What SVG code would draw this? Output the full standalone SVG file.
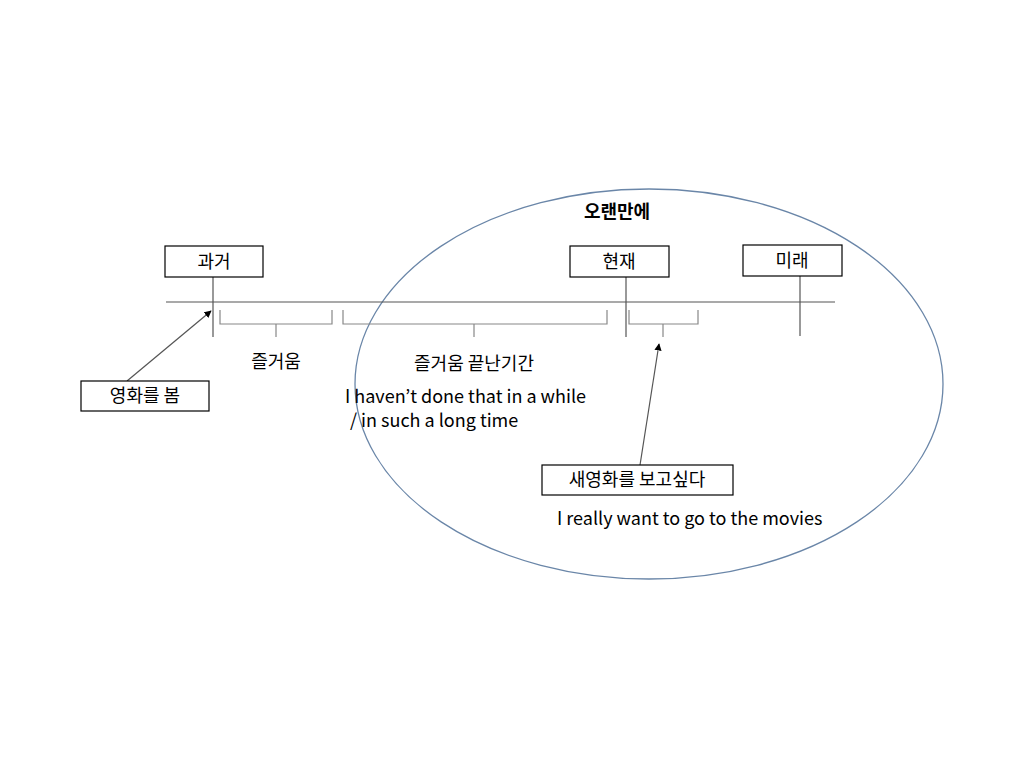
<svg xmlns="http://www.w3.org/2000/svg" width="1024" height="768" viewBox="0 0 1024 768">
<style>
.t{font-family:"Noto Sans CJK KR","Noto Sans",sans-serif;font-size:18px;fill:#000}
.b{fill:#fff;stroke:#000;stroke-width:1.2}
.l{stroke:#555;stroke-width:1.2;fill:none}
.br{stroke:#888;stroke-width:1.2;fill:none}
</style>
<defs><marker id="a" viewBox="0 0 10 10" refX="9" refY="5" markerWidth="6" markerHeight="6" orient="auto"><path d="M0,0L10,5L0,10z" fill="#000"/></marker></defs>
<rect width="1024" height="768" fill="#fff"/>
<g id="ellipse"><ellipse cx="649" cy="384" rx="294" ry="195" fill="none" stroke="#6a86a8" stroke-width="1.3"/>
<text class="t" x="617" y="218" text-anchor="middle" font-weight="bold">오랜만에</text></g>
<g id="connectors">
<line class="l" x1="166" y1="302" x2="835" y2="302" stroke="#333"/>
<line class="l" x1="213" y1="277" x2="213" y2="337"/>
<line class="l" x1="626" y1="277" x2="626" y2="337"/>
<line class="l" x1="800" y1="276" x2="800" y2="336"/>
<path class="br" d="M220,310V324H332V310M276,324V337"/>
<path class="br" d="M343,310V324H607V310M474,324V337"/>
<path class="br" d="M629,310V324H698V310M663,324V337"/>
<line class="l" x1="127" y1="381" x2="211" y2="311" marker-end="url(#a)"/>
<line class="l" x1="640" y1="465" x2="659" y2="344" marker-end="url(#a)"/>
</g>
<g id="past"><rect class="b" x="165" y="246" width="98" height="31"/><text class="t" x="214" y="268" text-anchor="middle">과거</text></g>
<g id="present"><rect class="b" x="570" y="246" width="99" height="31"/><text class="t" x="619" y="268" text-anchor="middle">현재</text></g>
<g id="future"><rect class="b" x="743" y="245" width="99" height="31"/><text class="t" x="792" y="267" text-anchor="middle">미래</text></g>
<g id="movie"><rect class="b" x="81" y="381" width="128" height="30"/><text class="t" x="145" y="402" text-anchor="middle">영화를 봄</text></g>
<g id="want"><rect class="b" x="542" y="465" width="191" height="30"/><text class="t" x="637" y="486" text-anchor="middle">새영화를 보고싶다</text></g>
<g id="labels">
<text class="t" x="276" y="368" text-anchor="middle">즐거움</text>
<text class="t" x="474" y="370" text-anchor="middle">즐거움 끝난기간</text>
<text class="t" x="345" y="403">I haven’t done that in a while</text>
<text class="t" x="350" y="427">/ in such a long time</text>
<text class="t" x="557" y="525">I really want to go to the movies</text>
</g>
</svg>
